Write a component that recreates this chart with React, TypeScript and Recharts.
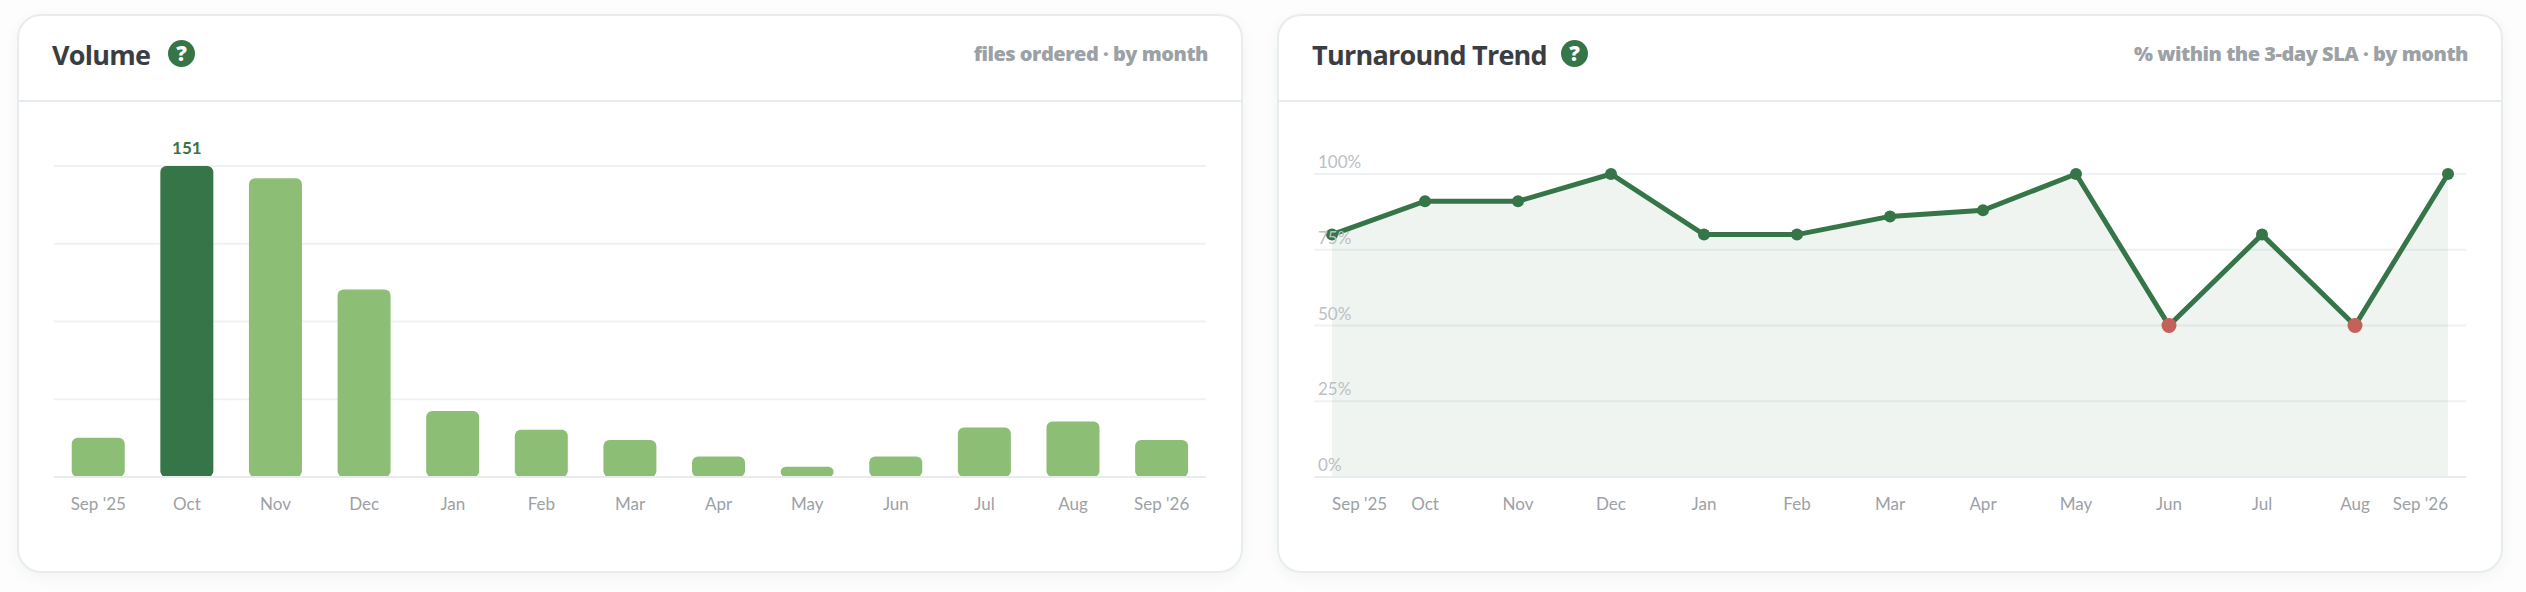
import React from "react";
import { BarChart, Bar, Cell, AreaChart, Area, XAxis, YAxis, CartesianGrid } from "recharts";

const months = ["Sep '25", "Oct", "Nov", "Dec", "Jan", "Feb", "Mar", "Apr", "May", "Jun", "Jul", "Aug", "Sep '26"];
const volumeValues = [19, 151, 145, 91, 32, 23, 18, 10, 5, 10, 24, 27, 18];
const slaValues = [80, 91, 91, 100, 80, 80, 86, 88, 100, 50, 80, 50, 100];
const volumeTicks = [0, 37.75, 75.5, 113.25, 151];
const slaTicks = [0, 25, 50, 75, 100];
const lowThreshold = 50;

const volumeData = months.map((month, i) => ({ month, files: volumeValues[i] }));
const slaData = months.map((month, i) => ({ month, sla: slaValues[i] }));

const FONT = "'Open Sans', 'Noto Sans', sans-serif";
const TICK_FAMILY = "Lato, 'Open Sans', sans-serif";
const DARK = "#357548";
const LIGHT = "#8dbe76";
const RED = "#c4625a";
const GREY = "#9ca1a6";
const TICK_FONT = 17;

function Card({ left, width, title, iconLeft, sub, children }: any) {
  return (
    <div
      style={{
        position: "absolute", left, top: 14, width, height: 559, boxSizing: "border-box",
        background: "#fff", border: "2px solid #e8ecef", borderRadius: 24,
        boxShadow: "0 4px 14px rgba(30,50,60,0.05)",
      }}
    >
      <div style={{ position: "absolute", left: 33, top: 20, fontFamily: FONT, fontWeight: 700, fontSize: 27, lineHeight: "38px", letterSpacing: -0.75, color: "#3a3d41", whiteSpace: "nowrap" }}>{title}</div>
      <div style={{ position: "absolute", left: iconLeft, top: 24, width: 27, height: 27, borderRadius: "50%", background: DARK, color: "#fff", fontFamily: FONT, fontWeight: 800, fontSize: 21, lineHeight: "27px", textAlign: "center" }}>?</div>
      <div style={{ position: "absolute", right: 33, top: 23, fontFamily: FONT, fontWeight: 800, fontSize: 20, lineHeight: "30px", letterSpacing: -0.5, color: GREY, whiteSpace: "nowrap" }}>{sub}</div>
      <div style={{ position: "absolute", left: 0, right: 0, top: 84, height: 2, background: "#e8ecef" }} />
      {children}
    </div>
  );
}

function BarLabel(props: any) {
  const { x, y, width, index, value } = props;
  if (index !== volumeValues.indexOf(Math.max(...volumeValues))) return null;
  return (
    <text x={x + width / 2} y={y - 12} textAnchor="middle" fontFamily={TICK_FAMILY} fontWeight={700} fontSize={17} fill={DARK}>{value}</text>
  );
}

function VolumeTick({ x, y, payload }: any) {
  return <text x={x} y={y + 25} textAnchor="middle" fontFamily={TICK_FAMILY} fontSize={TICK_FONT} fill={GREY}>{payload.value}</text>;
}

function SlaXTick({ x, y, payload, index }: any) {
  const anchor = index === 0 ? "start" : index === months.length - 1 ? "end" : "middle";
  return <text x={x} y={y + 25} textAnchor={anchor} fontFamily={TICK_FAMILY} fontSize={TICK_FONT} fill={GREY}>{payload.value}</text>;
}

function SlaYTick({ x, y, payload }: any) {
  return <text x={x - 4} y={y - 6} textAnchor="start" fontFamily={TICK_FAMILY} fontSize={TICK_FONT} fill="#bcc0c4">{payload.value}%</text>;
}

function EmptyTick() {
  return <g />;
}

function SlaDot({ cx, cy, value }: any) {
  const v = Array.isArray(value) ? value[1] : value;
  const low = v <= lowThreshold;
  return <circle cx={cx} cy={cy} r={low ? 7.5 : 6} fill={low ? RED : DARK} />;
}

export default function App() {
  return (
    <div style={{ position: "absolute", left: 0, top: 0, width: 2526, height: 592, background: "#fdfdfd", overflow: "hidden" }}>
      <Card left={17} width={1226} title="Volume" iconLeft={149} sub="files ordered · by month">
        <div style={{ position: "absolute", left: 0, top: 0 }}>
          <BarChart width={1222} height={555} data={volumeData} barCategoryGap="20%" margin={{ top: 150, right: 35, bottom: 64, left: 35 }}>
            <CartesianGrid vertical={false} stroke="#eff2f3" strokeWidth={2} />
            <XAxis dataKey="month" height={30} interval={0} tick={<VolumeTick />} tickLine={false} axisLine={{ stroke: "#e8ecef", strokeWidth: 2 }} />
            <YAxis width={1} domain={[0, 151]} ticks={volumeTicks} interval={0} tick={<EmptyTick />} tickLine={false} axisLine={false} mirror />
            <Bar dataKey="files" radius={6} isAnimationActive={false} label={<BarLabel />}>
              {volumeData.map((d, i) => (
                <Cell key={d.month} fill={i === 1 ? DARK : LIGHT} />
              ))}
            </Bar>
          </BarChart>
        </div>
      </Card>
      <Card left={1277} width={1226} title="Turnaround Trend" iconLeft={282} sub="% within the 3-day SLA · by month">
        <div style={{ position: "absolute", left: 0, top: 0 }}>
          <AreaChart width={1222} height={555} data={slaData} margin={{ top: 158, right: 35, bottom: 64, left: 35 }}>
            <CartesianGrid vertical={false} stroke="#eff2f3" strokeWidth={2} />
            <XAxis dataKey="month" height={30} interval={0} padding={{ left: 18, right: 18 }} tick={<SlaXTick />} tickLine={false} axisLine={{ stroke: "#e8ecef", strokeWidth: 2 }} />
            <YAxis width={1} domain={[0, 100]} ticks={slaTicks} interval={0} tick={<SlaYTick />} tickLine={false} axisLine={false} mirror />
            <Area type="linear" dataKey="sla" stroke={DARK} strokeWidth={5} fill={DARK} fillOpacity={0.08} dot={<SlaDot />} activeDot={false} isAnimationActive={false} />
          </AreaChart>
        </div>
      </Card>
    </div>
  );
}
